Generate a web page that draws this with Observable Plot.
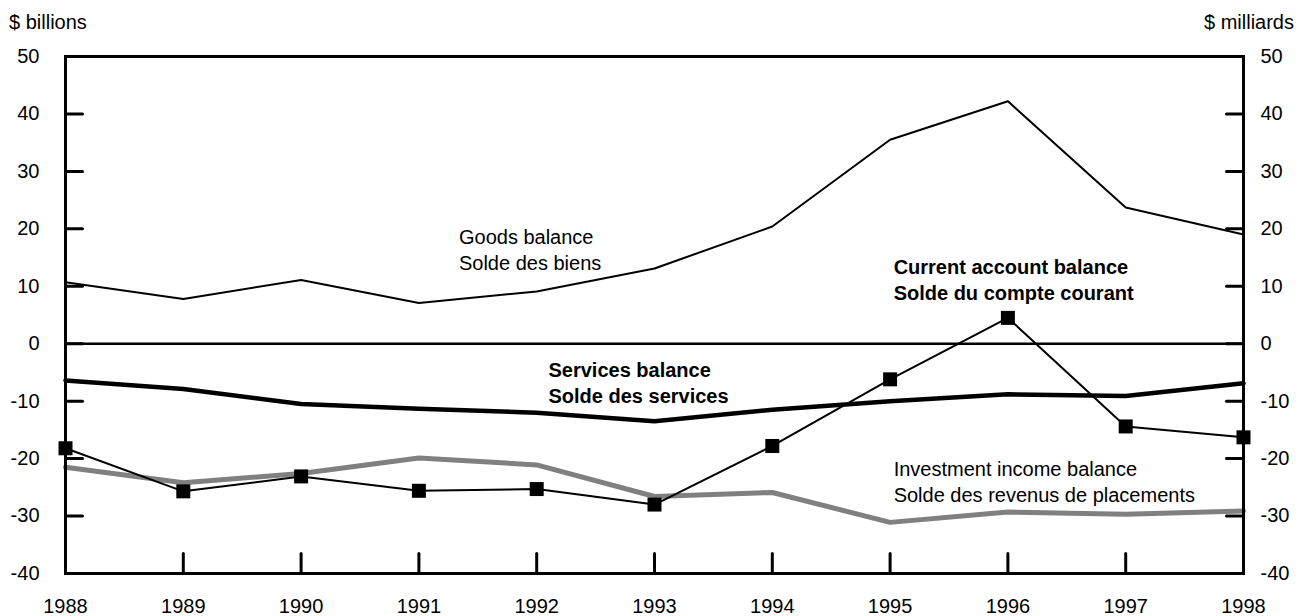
<!DOCTYPE html>
<html><head><meta charset="utf-8">
<script src="https://cdn.jsdelivr.net/npm/d3@7"></script>
<script src="https://cdn.jsdelivr.net/npm/@observablehq/plot@0.6"></script>
<style>
body{margin:0;background:#fff}
#wrap{position:relative;width:1300px;height:616px;font-family:"Liberation Sans",Arial,sans-serif;color:#000}
#wrap svg{position:absolute;left:0;top:0}
.unit{position:absolute;top:12px;font-size:20px;line-height:20px;z-index:2}
</style>
</head><body>
<div id="wrap">
<div class="unit" style="left:9px">$ billions</div>
<div class="unit" style="right:6px">$ milliards</div>
</div>
<script>
const years = [1988,1989,1990,1991,1992,1993,1994,1995,1996,1997,1998];
const goods = [10.7, 7.8, 11.1, 7.1, 9.1, 13.1, 20.4, 35.5, 42.2, 23.7, 19.0];
const services = [-6.4, -7.9, -10.5, -11.3, -12.0, -13.5, -11.5, -10.0, -8.8, -9.1, -6.9];
const current = [-18.2, -25.7, -23.1, -25.6, -25.3, -28.0, -17.8, -6.2, 4.5, -14.4, -16.3];
const investment = [-21.5, -24.2, -22.6, -19.9, -21.1, -26.6, -25.9, -31.1, -29.3, -29.7, -29.1];
const yTicks = [-40,-30,-20,-10,0,10,20,30,40,50];
const labelText = ["Goods balance\nSolde des biens", "Services balance\nSolde des services", "Current account balance\nSolde du compte courant", "Investment income balance\nSolde des revenus de placements"];
const labelX = [1991.34, 1992.10, 1995.03, 1995.03];
const labelY = [16.55, -6.53, 11.24, -23.87];
const labelBold = [false, true, true, false];

const rows = years.map((yr, i) => ({year: yr, goods: goods[i], services: services[i], current: current[i], investment: investment[i]}));
const labels = labelText.map((t, i) => ({text: t, x: labelX[i], y: labelY[i], bold: labelBold[i]}));

const tickShape = {draw(context, l) { context.moveTo(0, 0); context.lineTo(0, -l); }};
const font = "Liberation Sans, Arial, sans-serif";
const chart = Plot.plot({
  width: 1300, height: 616,
  marginLeft: 65, marginRight: 57, marginTop: 56, marginBottom: 43,
  style: {fontFamily: font, fontSize: "20px", background: "transparent", color: "#000"},
  x: {domain: [1988, 1998], axis: null},
  y: {domain: [-40, 50], axis: null},
  marks: [
    Plot.ruleY([0], {stroke: "#000", strokeWidth: 2.5}),
    Plot.line(rows, {x: "year", y: "goods", stroke: "#000", strokeWidth: 2}),
    Plot.line(rows, {x: "year", y: "investment", stroke: "#808080", strokeWidth: 5}),
    Plot.line(rows, {x: "year", y: "services", stroke: "#000", strokeWidth: 4.5}),
    Plot.line(rows, {x: "year", y: "current", stroke: "#000", strokeWidth: 2}),
    Plot.dot(rows, {x: "year", y: "current", symbol: "square", r: 7.9, fill: "#000", stroke: null}),
    Plot.text(labels.filter(d => !d.bold), {x: "x", y: "y", text: "text", textAnchor: "start", lineAnchor: "middle", lineHeight: 1.3, fontSize: 20, fill: "#000"}),
    Plot.text(labels.filter(d => d.bold), {x: "x", y: "y", text: "text", textAnchor: "start", lineAnchor: "middle", lineHeight: 1.3, fontSize: 20, fontWeight: "bold", fill: "#000"}),
    Plot.frame({stroke: "#000", strokeWidth: 3}),
    Plot.vector(yTicks, {y: d => d, frameAnchor: "left", length: 17, rotate: 90, anchor: "start", shape: tickShape, stroke: "#000", strokeWidth: 3}),
    Plot.vector(yTicks, {y: d => d, frameAnchor: "right", length: 17, rotate: -90, anchor: "start", shape: tickShape, stroke: "#000", strokeWidth: 3}),
    Plot.vector(years, {x: d => d, frameAnchor: "bottom", length: 20, rotate: 0, anchor: "start", shape: tickShape, stroke: "#000", strokeWidth: 3}),
    Plot.axisY(yTicks, {anchor: "left", tickSize: 0, tickPadding: 26, fontSize: 20, tickFormat: d => String(d)}),
    Plot.axisY(yTicks, {anchor: "right", tickSize: 0, tickPadding: 17, fontSize: 20, tickFormat: d => String(d)}),
    Plot.axisX(years, {anchor: "bottom", tickSize: 0, tickPadding: 25, fontSize: 20, tickFormat: d => String(d)})
  ]
});
document.getElementById("wrap").appendChild(chart);
</script>
</body></html>
